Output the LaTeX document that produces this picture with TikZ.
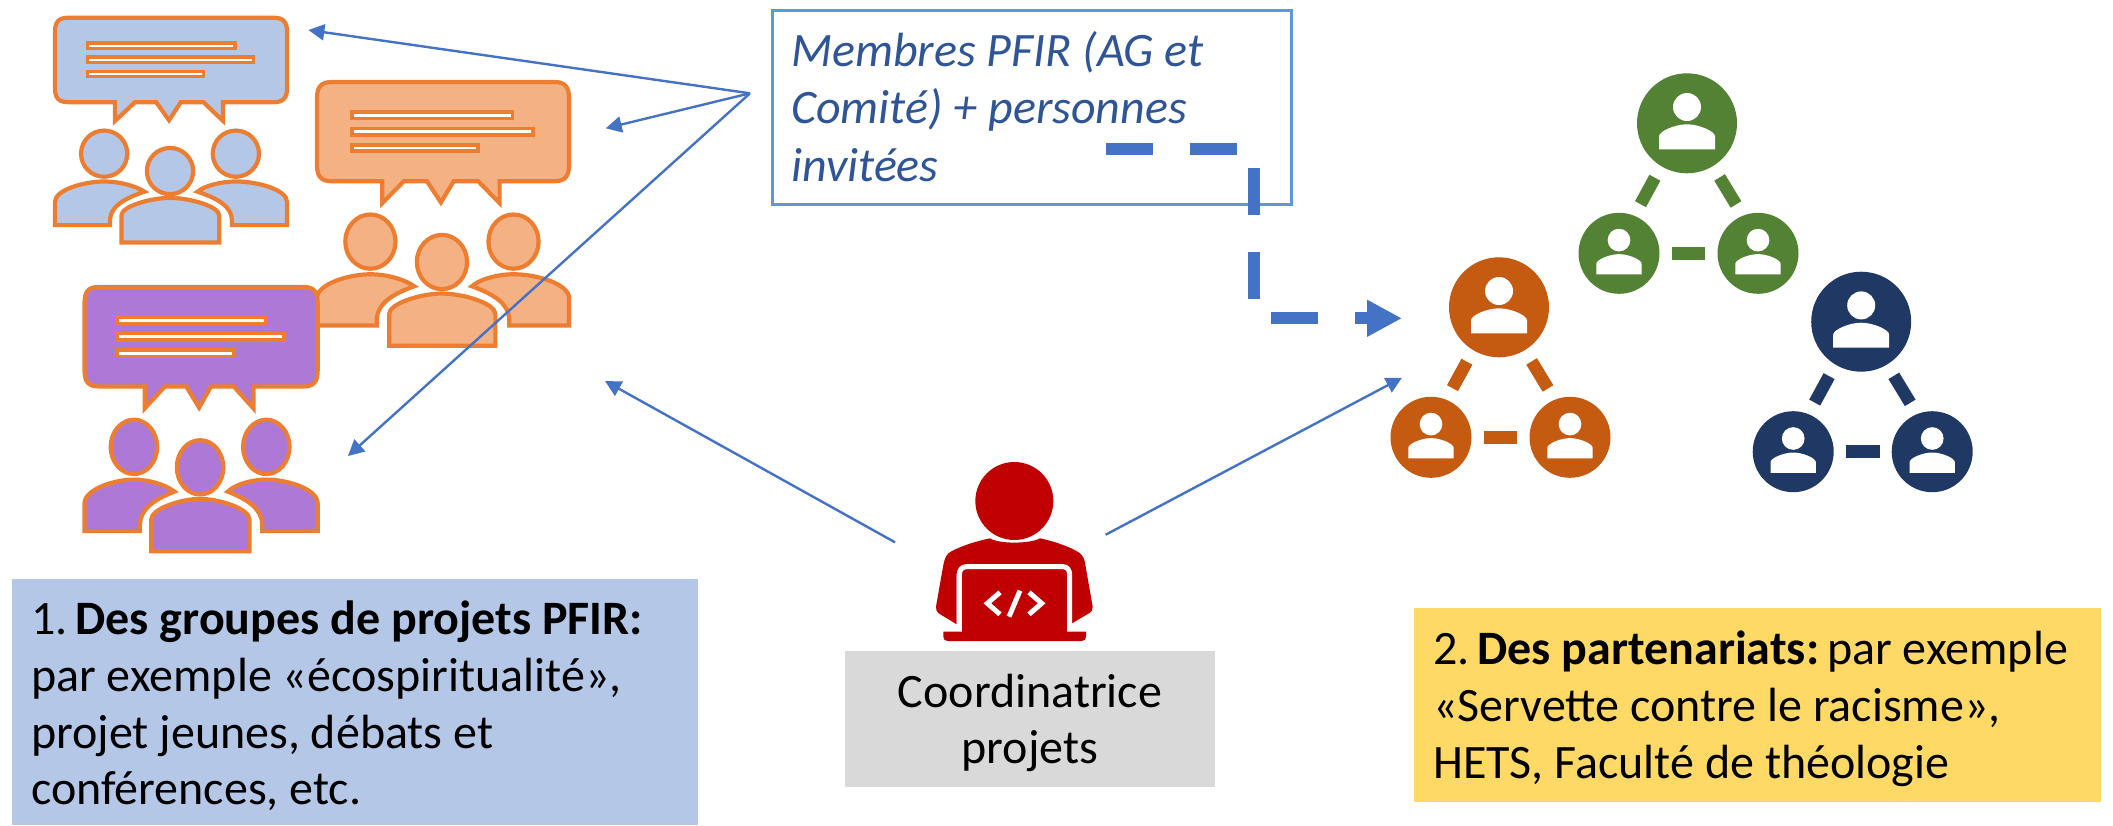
\documentclass[tikz,border=0pt]{standalone}
\usepackage{fontspec}
\setmainfont{Carlito}
\usetikzlibrary{arrows.meta}
\definecolor{lineblue}{HTML}{4472C4}
\definecolor{boxblue}{HTML}{5B9BD5}
\definecolor{textblue}{HTML}{2F5597}
\definecolor{iconorange}{HTML}{ED7D31}
\definecolor{paleblue}{HTML}{B4C7E7}
\definecolor{paleorange}{HTML}{F4B183}
\definecolor{violet}{HTML}{AD78D6}
\definecolor{netorange}{HTML}{C55A11}
\definecolor{netgreen}{HTML}{548235}
\definecolor{netnavy}{HTML}{203864}
\definecolor{codered}{HTML}{C00000}
\definecolor{greybox}{HTML}{D9D9D9}
\definecolor{yellowbox}{HTML}{FFD966}
\tikzset{
  iconline/.style={draw=iconorange,line width=4.2pt,line join=miter},
  barline/.style={draw=iconorange,line width=3.6pt,fill=white},
  thinarrow/.style={draw=lineblue,line width=2.4pt,-{Triangle[length=16pt,width=16pt]}},
  dasharrow/.style={draw=lineblue,line width=12pt,dash pattern=on 47pt off 36.5pt,-{Triangle[length=35pt,width=34.6pt]}},
  plainbox/.style={rectangle,inner sep=0pt,anchor=north west},
  bodytext/.style={anchor=north west,inner sep=0pt,align=left,font=\fontsize{48}{56.6}\selectfont},
  bignet/.style={circle,inner sep=0pt,minimum size=100pt},
  smallnet/.style={circle,inner sep=0pt,minimum size=81pt},
  netbar/.style={line width=12.5pt,shorten <=13pt,shorten >=13pt},
}
\newcommand{\groupicon}[5]{%
\begin{scope}[shift={(#1,#2)},xscale=#3,yscale=#4]
  \path[iconline,fill=#5] (14,0) -- (222,0) .. controls (232,0) and (236,4) .. (236,14) -- (236,72) .. controls (236,82) and (232,86) .. (222,86) -- (171,86) -- (171,105) -- (151,86) -- (128,86) -- (116,104.3) -- (103,86) -- (81.4,86) -- (61,105) -- (61,86) -- (14,86) .. controls (4,86) and (0,82) .. (0,72) -- (0,14) .. controls (0,4) and (4,0) .. (14,0) -- cycle;
  \path[barline] (33,26) rectangle (183,31.5);
  \path[barline] (33,40.2) rectangle (202,45.7);
  \path[barline] (33,54.6) rectangle (151,60);
  \path[iconline,fill=#5] (50,138.3) circle [radius=23.5];
  \path[iconline,fill=#5] (184,138.3) circle [radius=23.5];
  \path[iconline,fill=#5] (117,156) circle [radius=23.5];
  \path[iconline,fill=#5] (0,211) -- (0,187.3) .. controls (0,175) and (30,166.6) .. (50,166.6) .. controls (65,166.6) and (82,171) .. (91,177) .. controls (70,184) and (57,192) .. (56,205) -- (56,211) -- cycle;
  \path[iconline,fill=#5] (236,211) -- (236,187.3) .. controls (236,175) and (206,166.6) .. (184,166.6) .. controls (169,166.6) and (152,171) .. (145,177) .. controls (166,184) and (179,192) .. (180,205) -- (180,211) -- cycle;
  \path[iconline,fill=#5] (67.6,228.6) -- (67.6,201) .. controls (67.6,192) and (97,183.3) .. (117,183.3) .. controls (137,183.3) and (167,192) .. (167,201) -- (167,228.6) -- cycle;
\end{scope}}
\newcommand{\personmark}[2]{%
\begin{scope}[shift={(#1)},scale=#2]
  \fill[white] (0,-16.3) circle [radius=14];
  \fill[white] (-28,26) -- (-28,13) .. controls (-28,8) and (-12,1) .. (0,1) .. controls (12,1) and (28,8) .. (28,13) -- (28,26) -- cycle;
\end{scope}}
\newcommand{\network}[5]{%
  \node[bignet,fill=#4] (#5a) at (#1,#2) {};
  \node[smallnet,fill=#4] (#5b) at (#1-68,#2+130) {};
  \node[smallnet,fill=#4] (#5c) at (#1+71,#2+130) {};
  \personmark{#5a}{1}
  \personmark{#5b}{.81}
  \personmark{#5c}{.81}
  \draw[netbar,draw=#4] (#5a.-121) -- (#5b.68);
  \draw[netbar,draw=#4] (#5a.-59) -- (#5c.112);
  \draw[draw=#4,line width=13.5pt,shorten <=12pt,shorten >=12pt] (#5b.0) -- (#5c.180);
}
\begin{document}
\begin{tikzpicture}[x=1pt,y=-1pt]
\useasboundingbox (0,0) rectangle (2113,825);

% discussion groups
\groupicon{55}{17.7}{.983}{.983}{paleblue}
\groupicon{317}{82}{1.068}{1.154}{paleorange}
\groupicon{84.5}{287}{.988}{1.156}{violet}

% partner networks
\network{1687}{123.3}{}{netgreen}{g}
\network{1499}{307.3}{}{netorange}{o}
\network{1861.2}{321.7}{}{netnavy}{n}

% coordinator figure
\begin{scope}[shift={(840,440)},scale=.33333]
  \fill[codered] (523,183) circle [radius=117];
  \fill[codered] (450,295) .. controls (475,312) and (570,312) .. (600,295) .. controls (650,305) and (715,330) .. (725,345) .. controls (733,355) and (735,365) .. (737,380) -- (758,500) .. controls (758,510) and (755,515) .. (750,518) -- (696,550) -- (696,400) -- (350,400) -- (350,553) -- (296,520) .. controls (290,515) and (288,510) .. (288,500) -- (309,380) .. controls (312,365) and (315,350) .. (325,340) .. controls (345,325) and (400,305) .. (450,295) -- cycle;
  \draw[white,line width=5pt,fill=codered] (358,575) -- (358,405) .. controls (358,390) and (365,380) .. (380,380) -- (668,380) .. controls (682,380) and (689,390) .. (689,405) -- (689,575);
  \fill[white] (350,553) rectangle (366,575);
  \fill[white] (682,550) rectangle (696,575);
  \fill[codered] (366,540) rectangle (682,576);
  \fill[codered] (310,575) -- (738,575) -- (738,590) .. controls (738,598) and (733,603) .. (725,603) -- (323,603) .. controls (315,603) and (310,598) .. (310,590) -- cycle;
  \draw[white,line width=5pt] (480,457) -- (442,490) -- (480,523);
  \draw[white,line width=5pt] (540,452) -- (507,530);
  \draw[white,line width=5pt] (567,457) -- (605,490) -- (567,523);
\end{scope}
\node[plainbox,fill=greybox,minimum width=370pt,minimum height=135.7pt] (coord) at (845,651) {};
\node[inner sep=0pt,align=center,font=\fontsize{48}{56.6}\selectfont] (coordtext) at (1030,723) {Coordinatrice\\projets};

% text boxes
\node[plainbox,draw=boxblue,line width=2.5pt,minimum width=519pt,minimum height=194pt] (members) at (771,9.3) {};
\node[bodytext,text=textblue,font=\fontsize{48}{57.5}\selectfont\itshape] (memberstext) at (791,31) {Membres PFIR (AG et\\Comité) + personnes\\invitées};
\node[plainbox,fill=paleblue,minimum width=686.5pt,minimum height=246pt] (groups) at (11.5,579) {};
\node[bodytext] (groupstext) at (31,601) {1.\kern-3pt\ \textbf{Des groupes de projets PFIR:}\\par exemple «écospiritualité»,\\projet jeunes, débats et\\conférences, etc.};
\node[plainbox,fill=yellowbox,minimum width=687pt,minimum height=193.7pt] (partners) at (1414,608) {};
\node[bodytext] (partnerstext) at (1433,631) {2.\kern-3pt\ \textbf{Des partenariats:}\kern-3pt\ par exemple\\«Servette contre le racisme»,\\HETS, Faculté de théologie};

% connector ends
\coordinate (hub) at (750,93.3);
\coordinate (tipblue) at (308.4,30);
\coordinate (tiporange) at (605.7,128.3);
\coordinate (tipviolet) at (348,456);
\coordinate (coordleft) at (895,542.3);
\coordinate (tipgroups) at (605,381);
\coordinate (coordright) at (1105.7,534.7);
\coordinate (tipnet) at (1402,377.7);
\coordinate (dashstart) at (1106,149.3);
\coordinate (dashcornerA) at (1254,149.3);
\coordinate (dashcornerB) at (1254,318.3);
\coordinate (dashtip) at (1402,318.3);

\draw[thinarrow] (hub) -- (tipblue);
\draw[thinarrow] (hub) -- (tiporange);
\draw[thinarrow] (hub) -- (tipviolet);
\draw[thinarrow] (coordleft) -- (tipgroups);
\draw[thinarrow] (coordright) -- (tipnet);
\draw[dasharrow] (dashstart) -- (dashcornerA) -- (dashcornerB) -- (dashtip);
\end{tikzpicture}
\end{document}
